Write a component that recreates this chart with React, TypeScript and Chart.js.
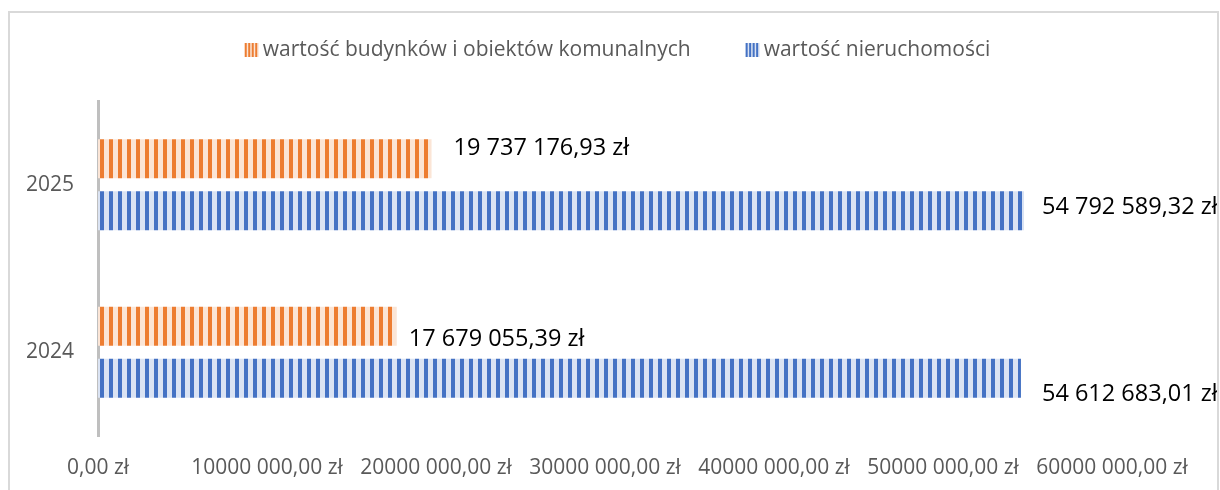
import React, { useEffect, useRef } from 'react';
import { Chart, registerables } from 'chart.js';

Chart.register(...registerables);

// ---- data ----
const CATEGORIES = ['2025', '2024'];
const SERIES_NAMES = ['wartość budynków i obiektów komunalnych', 'wartość nieruchomości'];
const BUILDINGS_VALUES = [19737176.93, 17679055.39];
const PROPERTY_VALUES = [54792589.32, 54612683.01];
const TICK_LABELS = [
  '0,00 zł',
  '10000 000,00 zł',
  '20000 000,00 zł',
  '30000 000,00 zł',
  '40000 000,00 zł',
  '50000 000,00 zł',
  '60000 000,00 zł',
];

// ---- styles ----
const FONT = '"Open Sans", "Noto Sans", sans-serif';
const DARK = ['#ED7D31', '#4472C4'];
const LIGHT = ['#FBE5D6', '#DAE3F3'];
const AXIS_TEXT = '#595959';
// label offsets relative to the bar end / bar centre: [dataset][category]
const LABEL_OFFSETS = [
  [{ dx: 22, dy: -3.5 }, { dx: 12, dy: 19.5 }],
  [{ dx: 18, dy: 3.5 }, { dx: 21, dy: 23 }],
];

function formatPLN(v: number): string {
  const [i, d] = v.toFixed(2).split('.');
  const g = i.replace(/\B(?=(\d{3})+(?!\d))/g, ' ');
  return `${g},${d} zł`;
}

function makeStripes(dark: string, light: string): CanvasPattern | string {
  const c = document.createElement('canvas');
  c.width = 9;
  c.height = 4;
  const ctx = c.getContext('2d');
  if (!ctx) return dark;
  ctx.fillStyle = light;
  ctx.fillRect(0, 0, 9, 4);
  ctx.fillStyle = dark;
  ctx.fillRect(0, 0, 4, 4);
  return ctx.createPattern(c, 'repeat') || dark;
}

const valueLabels = {
  id: 'valueLabels',
  afterDatasetsDraw(chart: any) {
    const ctx = chart.ctx;
    ctx.save();
    ctx.font = `23.5px ${FONT}`;
    ctx.fillStyle = '#000000';
    ctx.textAlign = 'left';
    ctx.textBaseline = 'alphabetic';
    chart.data.datasets.forEach((ds: any, di: number) => {
      const meta = chart.getDatasetMeta(di);
      meta.data.forEach((el: any, i: number) => {
        const off = LABEL_OFFSETS[di][i];
        ctx.fillText(formatPLN(ds.data[i]), el.x + off.dx, el.y + off.dy);
      });
    });
    ctx.restore();
  },
};

const stripeLegend = {
  id: 'stripeLegend',
  afterDraw(chart: any) {
    const ctx = chart.ctx;
    ctx.save();
    ctx.font = `21px ${FONT}`;
    ctx.textBaseline = 'middle';
    ctx.textAlign = 'left';
    const box = 14;
    const gap = 4;
    const itemGap = 55;
    const names: string[] = chart.data.datasets.map((d: any) => d.label);
    const widths = names.map((n) => box + gap + ctx.measureText(n).width);
    const total = widths.reduce((a, b) => a + b, 0) + itemGap * (names.length - 1);
    let x = (chart.width - total) / 2 + 4;
    const yc = 37;
    names.forEach((n, i) => {
      ctx.fillStyle = LIGHT[i];
      ctx.fillRect(x, yc - box / 2, box, box);
      ctx.fillStyle = DARK[i];
      for (let s = 0; s < 4; s++) {
        ctx.fillRect(x + s * 3.5, yc - box / 2, 2, box);
      }
      ctx.fillStyle = AXIS_TEXT;
      ctx.fillText(n, x + box + gap, yc);
      x += widths[i] + itemGap;
    });
    ctx.restore();
  },
};

export default function App() {
  const ref = useRef<HTMLCanvasElement | null>(null);

  useEffect(() => {
    document.documentElement.style.overflow = 'hidden';
    document.body.style.overflow = 'hidden';
    const canvas = ref.current;
    if (!canvas) return;
    const chart = new Chart(canvas, {
      type: 'bar',
      data: {
        labels: CATEGORIES,
        datasets: [
          {
            label: SERIES_NAMES[0],
            data: BUILDINGS_VALUES,
            backgroundColor: makeStripes(DARK[0], LIGHT[0]) as any,
            borderWidth: 0,
            barPercentage: 0.75,
            categoryPercentage: 0.62,
          },
          {
            label: SERIES_NAMES[1],
            data: PROPERTY_VALUES,
            backgroundColor: makeStripes(DARK[1], LIGHT[1]) as any,
            borderWidth: 0,
            barPercentage: 0.75,
            categoryPercentage: 0.62,
          },
        ],
      },
      options: {
        indexAxis: 'y',
        responsive: false,
        animation: false,
        layout: { padding: { top: 88, right: 105, left: 0, bottom: 0 } },
        plugins: {
          legend: { display: false },
          tooltip: { enabled: false },
        },
        scales: {
          x: {
            min: 0,
            max: 60000000,
            grid: { display: false, drawTicks: false },
            border: { display: false },
            ticks: {
              stepSize: 10000000,
              padding: 19,
              maxRotation: 0,
              autoSkip: false,
              color: AXIS_TEXT,
              font: { family: FONT, size: 21 },
              callback: (_v: any, i: number) => TICK_LABELS[i],
            },
            afterFit: (s: any) => {
              s.height = 54;
            },
          },
          y: {
            z: 1,
            grid: { display: false, drawTicks: false },
            border: { display: true, color: '#BFBFBF', width: 3 },
            ticks: {
              padding: 24,
              color: AXIS_TEXT,
              font: { family: FONT, size: 21 },
            },
            afterFit: (s: any) => {
              s.width = 88;
            },
          },
        },
      },
      plugins: [valueLabels, stripeLegend],
    });
    return () => chart.destroy();
  }, []);

  return (
    <div
      style={{
        position: 'fixed',
        left: 8,
        top: 11,
        width: 1211,
        height: 500,
        border: '2px solid #D9D9D9',
        boxSizing: 'border-box',
        background: '#fff',
      }}
    >
      <canvas ref={ref} width={1207} height={477} style={{ display: 'block', width: 1207, height: 477 }} />
    </div>
  );
}
